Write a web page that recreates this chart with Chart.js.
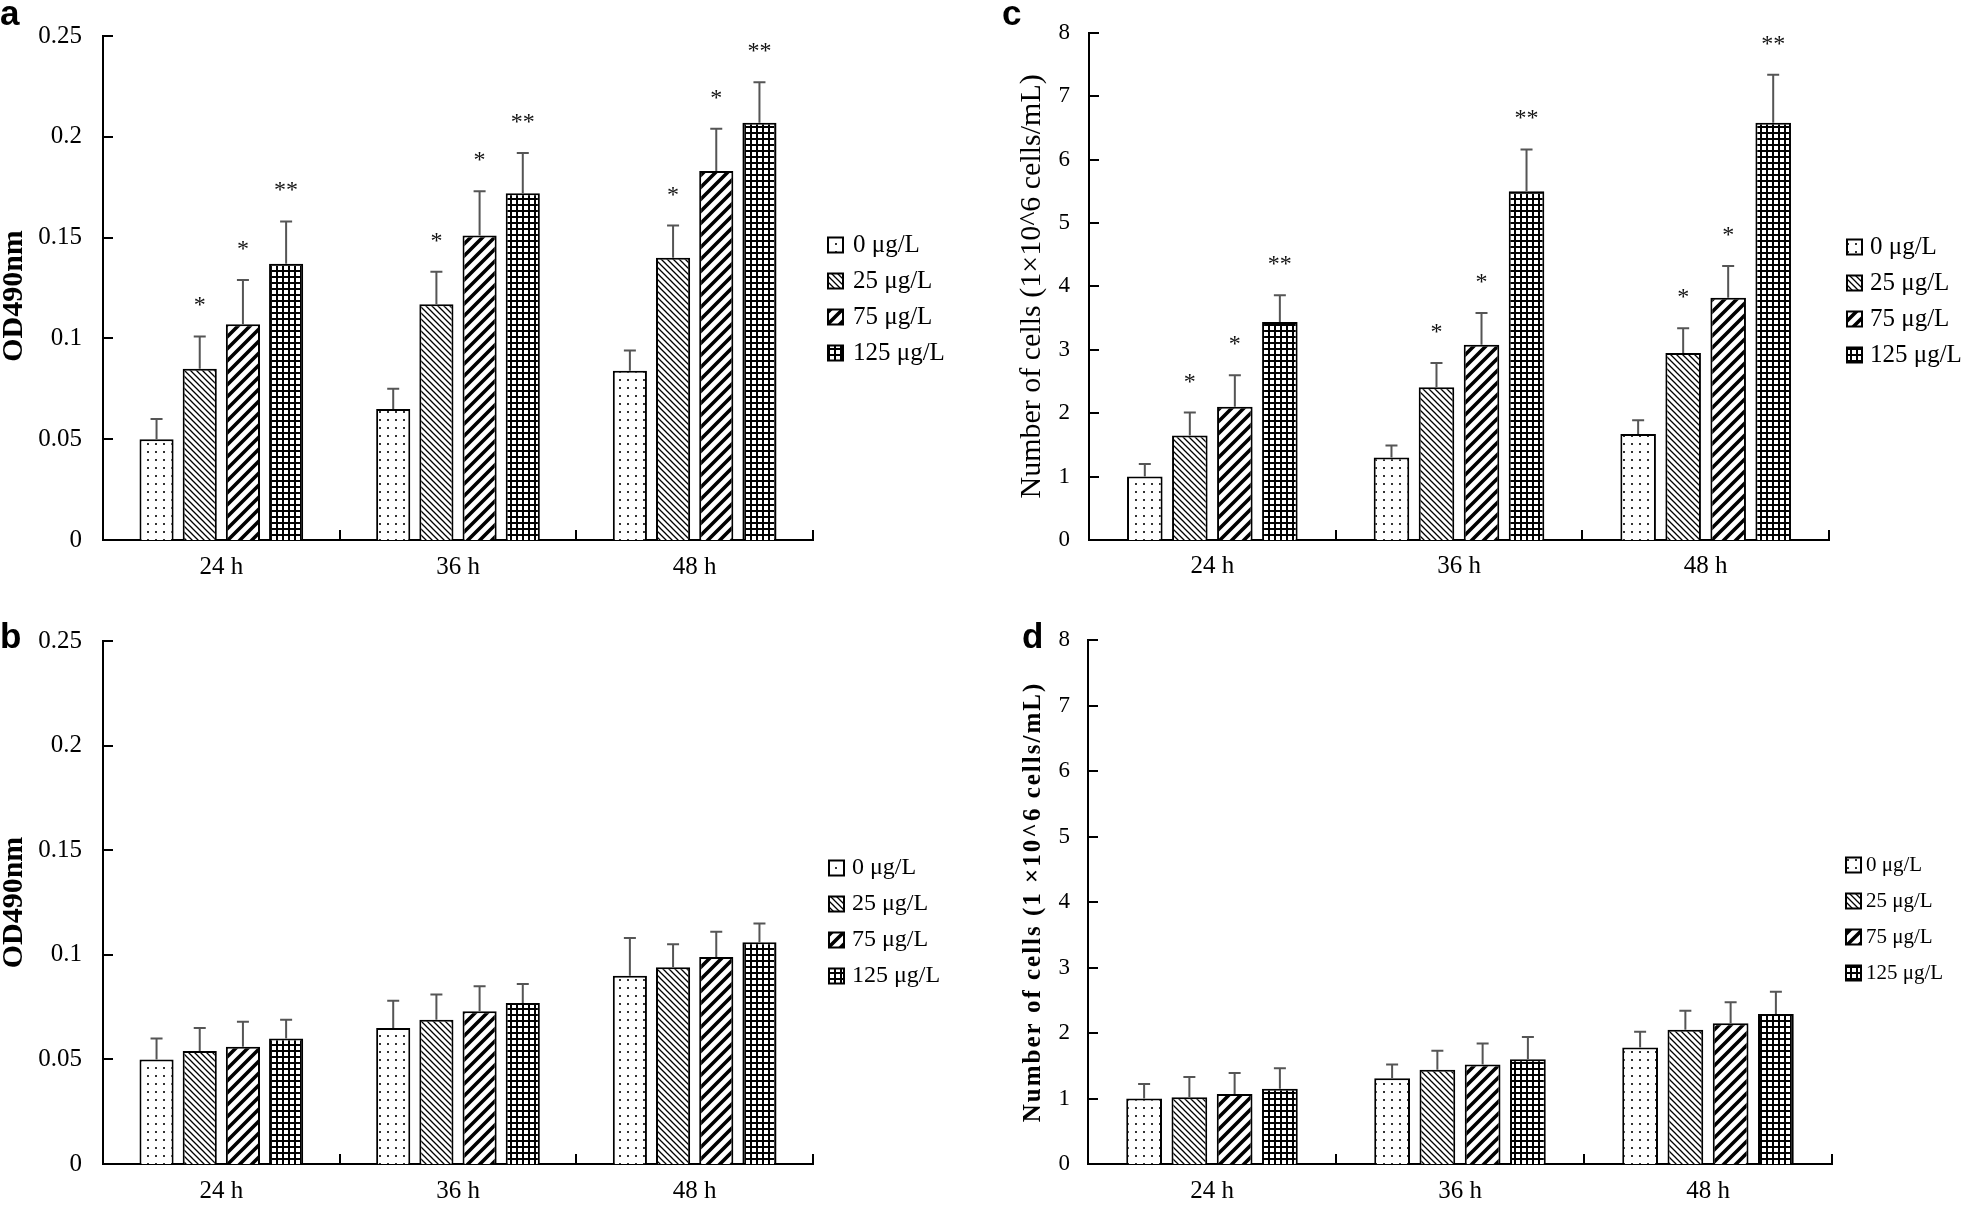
<!DOCTYPE html>
<html>
<head>
<meta charset="utf-8">
<script src="https://cdn.jsdelivr.net/npm/chart.js@4.4.1/dist/chart.umd.min.js"></script>
<style>
  html, body { margin: 0; padding: 0; background: #fff; }
  #wrap { position: relative; width: 1961px; height: 1206px; overflow: hidden; background: #fff; }
  #wrap canvas { position: absolute; }
  .tag { position: absolute; font-family: "Liberation Sans", Arial, sans-serif; font-weight: bold;
         font-size: 35px; line-height: 35px; color: #000; }
</style>
</head>
<body>
<div id="wrap">
  <canvas id="chartA" width="980" height="600" style="left:0;top:0"></canvas>
  <canvas id="chartB" width="980" height="606" style="left:0;top:600px"></canvas>
  <canvas id="chartC" width="981" height="600" style="left:980px;top:0"></canvas>
  <canvas id="chartD" width="981" height="606" style="left:980px;top:600px"></canvas>
  <div class="tag" style="left:0;top:-5px">a</div>
  <div class="tag" style="left:0;top:618px">b</div>
  <div class="tag" style="left:1002px;top:-5px">c</div>
  <div class="tag" style="left:1022px;top:618px">d</div>
</div>
<script>
// Dados
const timePoints = ['24 h', '36 h', '48 h'];
const doseLabels = ['0 μg/L', '25 μg/L', '75 μg/L', '125 μg/L'];
const odTicks = [0, 0.05, 0.1, 0.15, 0.2, 0.25];
const cellTicks = [0, 1, 2, 3, 4, 5, 6, 7, 8];

// a: OD490nm (uma linha por dose, colunas = 24/36/48 h)
const odMeanA = [
    [0.050, 0.065, 0.084],
    [0.085, 0.117, 0.140],
    [0.107, 0.151, 0.183],
    [0.137, 0.172, 0.207]
];
const odErrA = [
    [0.010, 0.010, 0.010],
    [0.016, 0.016, 0.016],
    [0.022, 0.022, 0.021],
    [0.021, 0.020, 0.020]
];

// b: OD490nm
const odMeanB = [
    [0.050, 0.065, 0.090],
    [0.054, 0.069, 0.094],
    [0.056, 0.073, 0.099],
    [0.060, 0.077, 0.106]
];
const odErrB = [
    [0.010, 0.013, 0.018],
    [0.011, 0.012, 0.011],
    [0.012, 0.012, 0.012],
    [0.009, 0.009, 0.009]
];

// c: número de células
const cellMeanC = [
    [1.00, 1.30, 1.67],
    [1.65, 2.41, 2.95],
    [2.10, 3.08, 3.82],
    [3.44, 5.50, 6.58]
];
const cellErrC = [
    [0.20, 0.19, 0.22],
    [0.36, 0.38, 0.39],
    [0.50, 0.50, 0.50],
    [0.42, 0.66, 0.76]
];

// d: número de células
const cellMeanD = [
    [1.00, 1.31, 1.78],
    [1.02, 1.44, 2.05],
    [1.07, 1.52, 2.15],
    [1.15, 1.60, 2.29]
];
const cellErrD = [
    [0.22, 0.21, 0.24],
    [0.31, 0.29, 0.29],
    [0.32, 0.32, 0.32],
    [0.31, 0.34, 0.34]
];

// Marcas de significância (a e c)
const sigMarks = [
    ['', '', ''],
    ['*', '*', '*'],
    ['*', '*', '*'],
    ['**', '**', '**']
];

const SERIF = '"Liberation Serif", "Times New Roman", serif';

// Padrões de preenchimento (pontos, listras finas, listras grossas, grade)
function makePattern(kind) {
    const c = document.createElement('canvas');
    const g = c.getContext('2d');
    let s = 8;
    if (kind === 'back') s = 6;
    if (kind === 'slash') s = 12;
    if (kind === 'grid') s = 6;
    c.width = s; c.height = s;
    g.fillStyle = '#fff';
    g.fillRect(0, 0, s, s);
    g.fillStyle = '#000';
    g.strokeStyle = '#000';
    if (kind === 'dots') {
        g.fillStyle = '#333';
        g.fillRect(3, 3, 2, 2);
    } else if (kind === 'back') {
        g.lineWidth = 1.3;
        g.beginPath();
        g.moveTo(-1, -1); g.lineTo(s + 1, s + 1);
        g.moveTo(-1, s - 1); g.lineTo(1, s + 1);
        g.moveTo(s - 1, -1); g.lineTo(s + 1, 1);
        g.stroke();
    } else if (kind === 'slash') {
        g.lineWidth = 3.6;
        g.beginPath();
        g.moveTo(-2, s + 2); g.lineTo(s + 2, -2);
        g.moveTo(-2, 2); g.lineTo(2, -2);
        g.moveTo(s - 2, s + 2); g.lineTo(s + 2, s - 2);
        g.stroke();
    } else if (kind === 'grid') {
        g.fillRect(0, 0, s, 2);
        g.fillRect(0, 0, 2, s);
    }
    return g.createPattern(c, 'repeat');
}
const patterns = ['dots', 'back', 'slash', 'grid'].map(makePattern);

// Plugin: marcas internas dos eixos, barras de erro, asteriscos, título do eixo Y e legenda
const panelExtras = {
    id: 'panelExtras',
    afterDatasetsDraw(chart, args, o) {
        const ctx = chart.ctx;
        const area = chart.chartArea;
        const x = chart.scales.x;
        const y = chart.scales.y;
        ctx.save();
        ctx.strokeStyle = '#000';
        ctx.lineWidth = 2;
        ctx.beginPath();
        y.ticks.forEach(t => {
            const py = Math.round(y.getPixelForValue(t.value));
            ctx.moveTo(area.left, py);
            ctx.lineTo(area.left + 10, py);
        });
        x.ticks.forEach((t, i) => {
            const px = Math.round(x.getPixelForValue(i + 0.5));
            ctx.moveTo(px, area.bottom);
            ctx.lineTo(px, area.bottom - 10);
        });
        ctx.stroke();

        chart.data.datasets.forEach((ds, di) => {
            chart.getDatasetMeta(di).data.forEach((bar, i) => {
                const top = y.getPixelForValue(ds.data[i] + ds.errors[i]);
                ctx.strokeStyle = '#555';
                ctx.lineWidth = 2;
                ctx.beginPath();
                ctx.moveTo(bar.x, bar.y);
                ctx.lineTo(bar.x, top);
                ctx.moveTo(bar.x - 6, top);
                ctx.lineTo(bar.x + 6, top);
                ctx.stroke();
                const mark = ds.marks ? ds.marks[i] : '';
                if (mark) {
                    ctx.fillStyle = '#111';
                    ctx.font = '24px ' + SERIF;
                    ctx.textAlign = 'center';
                    ctx.textBaseline = 'alphabetic';
                    ctx.fillText(mark, bar.x, top - 24);
                }
            });
        });
        ctx.restore();
    },
    afterDraw(chart, args, o) {
        const ctx = chart.ctx;
        const area = chart.chartArea;
        ctx.save();
        // título do eixo Y
        ctx.translate(o.titleX, (area.top + area.bottom) / 2 + (o.titleShift || 0));
        ctx.rotate(-Math.PI / 2);
        ctx.font = o.titleFont;
        if (o.titleSpacing) ctx.letterSpacing = o.titleSpacing + 'px';
        ctx.fillStyle = '#000';
        ctx.textAlign = 'center';
        ctx.textBaseline = 'middle';
        ctx.fillText(o.title, 0, 0);
        ctx.restore();

        // legenda
        ctx.save();
        chart.data.datasets.forEach((ds, i) => {
            const cy = o.legendTop + i * o.legendStep;
            ctx.fillStyle = ds.backgroundColor;
            ctx.fillRect(o.legendX, cy - 7.5, 15, 15);
            ctx.strokeStyle = '#000';
            ctx.lineWidth = 2;
            ctx.strokeRect(o.legendX, cy - 7.5, 15, 15);
            ctx.fillStyle = '#000';
            ctx.font = o.legendFont;
            ctx.textAlign = 'left';
            ctx.textBaseline = 'middle';
            ctx.fillText(ds.label, o.legendX + o.legendGap, cy);
        });
        ctx.restore();
    }
};

// Cria um painel de barras agrupadas
function makePanel(id, means, errs, marks, ticks, p) {
    const datasets = doseLabels.map((label, k) => ({
        label: label,
        data: means[k],
        errors: errs[k],
        marks: marks ? marks[k] : null,
        backgroundColor: patterns[k],
        borderColor: '#000',
        borderWidth: 2,
        borderSkipped: 'bottom',
        barPercentage: 0.79,
        categoryPercentage: 0.73
    }));

    return new Chart(document.getElementById(id), {
        type: 'bar',
        data: { labels: timePoints, datasets: datasets },
        options: {
            responsive: false,
            devicePixelRatio: 1,
            animation: false,
            layout: { padding: { top: p.top, right: p.right, left: 0, bottom: 0 } },
            plugins: {
                legend: { display: false },
                tooltip: { enabled: false },
                panelExtras: p.extras
            },
            scales: {
                x: {
                    grid: { display: false, drawTicks: false },
                    border: { display: true, color: '#000', width: 2 },
                    ticks: { color: '#000', padding: p.xPad, font: { family: SERIF, size: 25 } },
                    afterFit: s => { s.height = p.xHeight; }
                },
                y: {
                    min: ticks[0],
                    max: ticks[ticks.length - 1],
                    grid: { display: false, drawTicks: false },
                    border: { display: true, color: '#000', width: 2 },
                    ticks: {
                        color: '#000',
                        padding: p.yPad,
                        font: { family: SERIF, size: p.yFont },
                        callback: v => String(v)
                    },
                    afterBuildTicks: s => { s.ticks = ticks.map(v => ({ value: v })); },
                    afterFit: s => { s.width = p.yWidth; }
                }
            }
        },
        plugins: [panelExtras]
    });
}

makePanel('chartA', odMeanA, odErrA, sigMarks, odTicks, {
    top: 15, right: 167, xHeight: 60, xPad: 12, yWidth: 103, yPad: 21, yFont: 25,
    extras: {
        title: 'OD490nm', titleFont: 'bold 30px ' + SERIF, titleX: 14, titleShift: 8,
        legendX: 828, legendTop: 245, legendStep: 36, legendGap: 25, legendFont: '25px ' + SERIF
    }
});

makePanel('chartB', odMeanB, odErrB, null, odTicks, {
    top: 41, right: 167, xHeight: 42, xPad: 12, yWidth: 103, yPad: 21, yFont: 25,
    extras: {
        title: 'OD490nm', titleFont: 'bold 30px ' + SERIF, titleX: 14,
        legendX: 829, legendTop: 268, legendStep: 36, legendGap: 23, legendFont: '24px ' + SERIF
    }
});

makePanel('chartC', cellMeanC, cellErrC, sigMarks, cellTicks, {
    top: 15, right: 132, xHeight: 60, xPad: 11, yWidth: 109, yPad: 19, yFont: 23,
    extras: {
        title: 'Number of cells (1×10^6 cells/mL)', titleFont: '30px ' + SERIF, titleX: 52,
        legendX: 867, legendTop: 247, legendStep: 36, legendGap: 23, legendFont: '25px ' + SERIF
    }
});

makePanel('chartD', cellMeanD, cellErrD, null, cellTicks, {
    top: 40, right: 129, xHeight: 42, xPad: 12, yWidth: 108, yPad: 18, yFont: 23,
    extras: {
        title: 'Number of cells (1 ×10^6 cells/mL)', titleFont: 'bold 25px ' + SERIF, titleX: 54,
        titleSpacing: 2,
        legendX: 866, legendTop: 265, legendStep: 36, legendGap: 20, legendFont: '21px ' + SERIF
    }
});
</script>
</body>
</html>
